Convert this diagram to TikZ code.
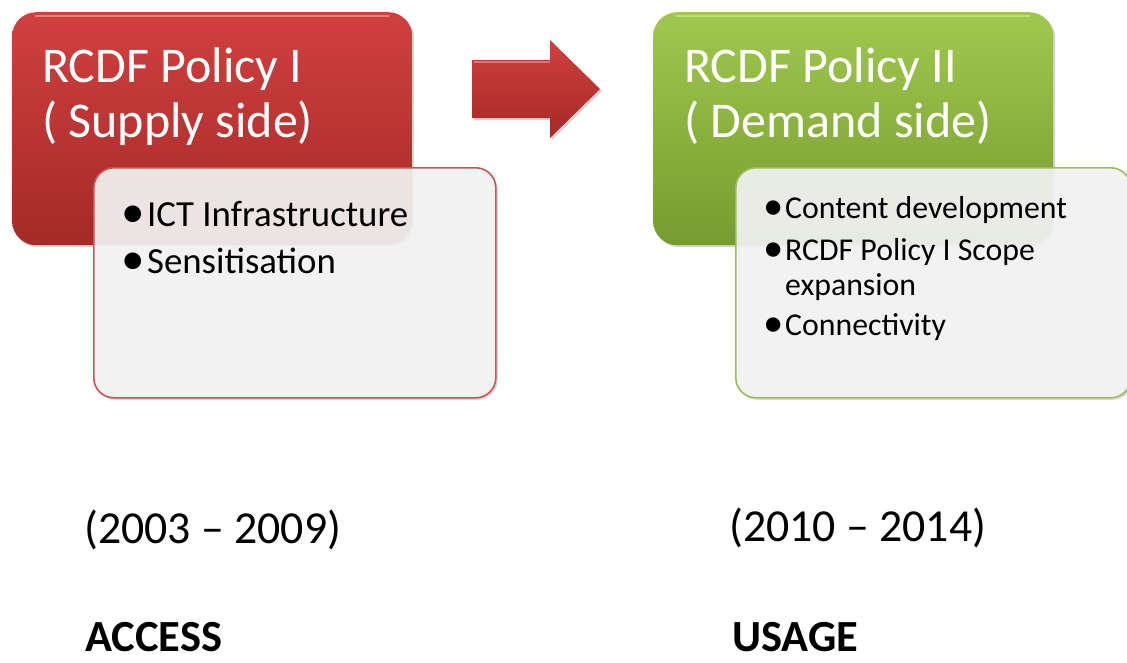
\documentclass[tikz,border=0pt]{standalone}
\usepackage{fontspec}
\usepackage{graphicx}
\setmainfont{Carlito}
\usetikzlibrary{shadows}
\definecolor{redtop}{RGB}{208,64,62}
\definecolor{redbot}{RGB}{164,42,40}
\definecolor{greentop}{RGB}{160,200,78}
\definecolor{greenbot}{RGB}{118,156,48}
\definecolor{redline}{RGB}{206,82,80}
\definecolor{greenline}{RGB}{155,190,88}
\definecolor{panel}{RGB}{245,245,245}
\newcommand{\bul}[1]{\makebox[#1][l]{\hspace{-2.5pt}\raisebox{-0.05em}{\scalebox{1.28}{•}}}}
\tikzset{
  mainbox/.style={rounded corners=24pt, minimum width=400pt, minimum height=233pt,
    anchor=north west, inner sep=0pt,
    drop shadow={opacity=0.35, shadow xshift=2pt, shadow yshift=-2pt}},
  redbox/.style={mainbox, top color=redtop, bottom color=redbot},
  greenbox/.style={mainbox, top color=greentop, bottom color=greenbot},
  panelbox/.style={rounded corners=20pt, minimum height=230pt, anchor=north west,
    inner sep=0pt, fill=panel, fill opacity=0.9, line width=1.6pt,
    drop shadow={opacity=0.3, shadow xshift=2pt, shadow yshift=-2pt}},
  title/.style={text=white, font=\fontsize{50}{56}\selectfont, anchor=base west, inner sep=0pt},
  bigitem/.style={font=\fontsize{36.8}{44}\selectfont, anchor=base west, inner sep=0pt},
  smallitem/.style={font=\fontsize{31.8}{38}\selectfont, anchor=base west, inner sep=0pt},
  period/.style={font=\fontsize{45.8}{54}\selectfont, anchor=base west, inner sep=0pt},
  label/.style={font=\fontsize{44.5}{54}\selectfont\bfseries, anchor=base west, inner sep=0pt},
  gloss/.style={white, opacity=0.35, line width=2.5pt, line cap=round}
}
\begin{document}
\begin{tikzpicture}[x=1pt,y=-1pt]
\useasboundingbox (0,0) rectangle (1127,662);

% left group
\node[redbox] (p1) at (12,12) {};
\draw[gloss] ([xshift=24pt,yshift=-4pt]p1.north west) -- ([xshift=-24pt,yshift=-4pt]p1.north east);
\node[panelbox, draw=redline, minimum width=402pt] (b1) at (93,167) {};
\node[title] (t1a) at (42,82) {RCDF Policy I};
\node[title] (t1b) at (42,137) {( Supply side)};
\node[bigitem] (i1a) at (124,226) {\bul{23pt}ICT Infrastructure};
\node[bigitem] (i1b) at (124,273) {\bul{23pt}Sensitisation};

% arrow
\shade[top color=redtop, bottom color=redbot,
  drop shadow={opacity=0.35, shadow xshift=2pt, shadow yshift=-2pt}]
  (472,60) -- (550,60) -- (550,40) -- (600,89) -- (550,138) -- (550,118) -- (472,118) -- cycle;
\draw[white, opacity=0.3, line width=1.5pt] (474,62) -- (550,62);

% right group
\node[greenbox] (p2) at (653,12) {};
\draw[gloss] ([xshift=24pt,yshift=-4pt]p2.north west) -- ([xshift=-24pt,yshift=-4pt]p2.north east);
\node[panelbox, draw=greenline, minimum width=395pt] (b2) at (735,167) {};
\node[title] (t2a) at (684,82) {RCDF Policy II};
\node[title] (t2b) at (684,137) {( Demand side)};
\node[smallitem] (i2a) at (766,218) {\bul{19pt}Content development};
\node[smallitem] (i2b) at (766,260) {\bul{19pt}RCDF Policy I Scope};
\node[smallitem] (i2c) at (785,295) {expansion};
\node[smallitem] (i2d) at (766,335) {\bul{19pt}Connectivity};

% bottom labels
\node[period] (y1) at (84,543) {(2003 – 2009)};
\node[label] (l1) at (85,651) {ACCESS};
\node[period] (y2) at (729,541) {(2010 – 2014)};
\node[label] (l2) at (732,651) {USAGE};
\end{tikzpicture}
\end{document}
